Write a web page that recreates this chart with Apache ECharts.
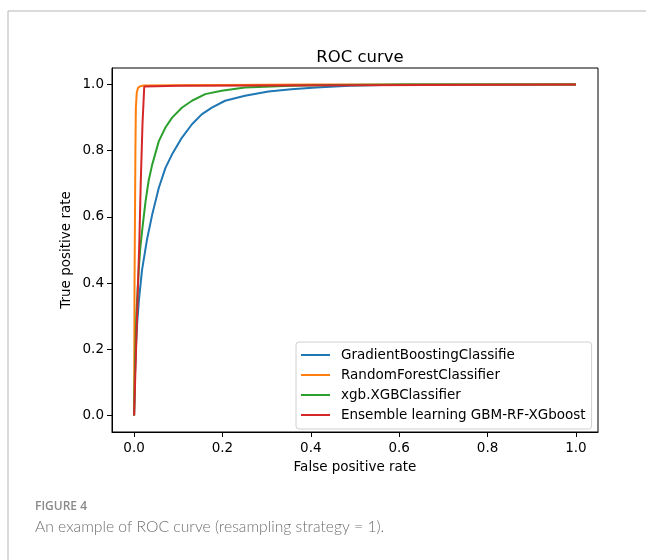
<!DOCTYPE html>
<html>
<head>
<meta charset="utf-8">
<style>
  html, body { margin: 0; padding: 0; background: #fff; }
  #main { width: 646px; height: 560px; }
</style>
</head>
<body>
<div id="main"></div>
<script src="https://cdn.jsdelivr.net/npm/echarts@6/dist/echarts.min.js"></script>
<script>
// ROC curves (false positive rate / true positive rate)
var seriesNames = ['GradientBoostingClassifie', 'RandomForestClassifier', 'xgb.XGBClassifier', 'Ensemble learning GBM-RF-XGboost'];
var seriesColors = ['#1f77b4', '#ff7f0e', '#2ca02c', '#d62728'];

var gbFpr = [0, 0.001, 0.002, 0.004, 0.007, 0.011, 0.018, 0.029, 0.041, 0.056, 0.071, 0.086, 0.108, 0.131, 0.153, 0.176, 0.206, 0.251, 0.304, 0.356, 0.412, 0.487, 0.562, 0.65, 0.8, 1.0];
var gbTpr = [0, 0.05, 0.12, 0.2, 0.28, 0.35, 0.44, 0.53, 0.607, 0.688, 0.748, 0.789, 0.839, 0.88, 0.91, 0.93, 0.951, 0.966, 0.979, 0.986, 0.991, 0.996, 0.999, 1.0, 1.0, 1.0];

var rfFpr = [0, 0.001, 0.003, 0.004, 0.006, 0.009, 0.014, 0.022, 0.1, 0.4, 1.0];
var rfTpr = [0, 0.4, 0.8, 0.93, 0.975, 0.99, 0.995, 0.997, 0.998, 1.0, 1.0];

var xgbFpr = [0, 0.001, 0.003, 0.005, 0.008, 0.011, 0.014, 0.02, 0.026, 0.033, 0.041, 0.056, 0.071, 0.086, 0.108, 0.131, 0.161, 0.198, 0.251, 0.356, 0.45, 0.6, 1.0];
var xgbTpr = [0, 0.08, 0.2, 0.3, 0.38, 0.45, 0.506, 0.58, 0.648, 0.71, 0.758, 0.829, 0.87, 0.9, 0.93, 0.951, 0.971, 0.981, 0.991, 0.996, 0.999, 1.0, 1.0];

var ensFpr = [0, 0.004, 0.008, 0.012, 0.015, 0.019, 0.023, 0.1, 0.5, 1.0];
var ensTpr = [0, 0.18, 0.36, 0.53, 0.7, 0.88, 0.994, 0.996, 0.998, 1.0];

var tickValues = [0, 0.2, 0.4, 0.6, 0.8, 1.0];

function pairs(xs, ys) {
  return xs.map(function (x, i) { return [x, ys[i]]; });
}

var curves = [pairs(gbFpr, gbTpr), pairs(rfFpr, rfTpr), pairs(xgbFpr, xgbTpr), pairs(ensFpr, ensTpr)];

var font = 'DejaVu Sans';

function axisCommon(name, gap) {
  return {
    type: 'value',
    min: -0.05,
    max: 1.05,
    name: name,
    nameLocation: 'middle',
    nameGap: gap,
    nameTextStyle: { fontFamily: font, fontSize: 13.5, color: '#000' },
    axisLine: { show: true, onZero: false, lineStyle: { color: '#000', width: 1 } },
    axisTick: { show: true, length: 5, customValues: tickValues, lineStyle: { color: '#000', width: 1 } },
    axisLabel: {
      customValues: tickValues,
      margin: 8,
      fontFamily: font,
      fontSize: 13.5,
      color: '#000',
      formatter: function (v) { return v.toFixed(1); }
    },
    splitLine: { show: false }
  };
}

var chart = echarts.init(document.getElementById('main'));

var xAxis = axisCommon('False positive rate', 28);
xAxis.axisLabel.margin = 9;
var yAxis = axisCommon('True positive rate', 39);
yAxis.nameMoveOverlap = false;

var option = {
  animation: false,
  backgroundColor: '#fff',
  title: {
    text: 'ROC curve',
    left: 355,
    textAlign: 'center',
    top: 44,
    textStyle: { fontFamily: font, fontSize: 16.5, fontWeight: 'normal', color: '#000' }
  },
  grid: {
    left: 112, right: 48, top: 68, bottom: 128,
    show: true, borderColor: '#000', borderWidth: 1, backgroundColor: 'transparent'
  },
  xAxis: xAxis,
  yAxis: yAxis,
  legend: {
    orient: 'vertical',
    left: 296,
    top: 342,
    padding: [5, 6, 6, 5],
    itemGap: 4,
    itemWidth: 29,
    itemHeight: 2,
    icon: 'rect',
    backgroundColor: '#fff',
    borderColor: '#d0d0d0',
    borderWidth: 1,
    borderRadius: 3,
    textStyle: { fontFamily: font, fontSize: 13.5, color: '#000', lineHeight: 16, padding: [0, 0, 0, 6] },
    data: seriesNames
  },
  series: curves.map(function (d, i) {
    return {
      name: seriesNames[i],
      type: 'line',
      data: d,
      symbol: 'none',
      showSymbol: false,
      color: seriesColors[i],
      lineStyle: { color: seriesColors[i], width: 2 },
      z: 2 + i
    };
  }),
  graphic: [
    { type: 'line', shape: { x1: 8, y1: 11, x2: 646, y2: 11 }, style: { stroke: '#b5b5b5', lineWidth: 1 } },
    { type: 'line', shape: { x1: 8, y1: 11, x2: 8, y2: 560 }, style: { stroke: '#b5b5b5', lineWidth: 1 } },
    {
      type: 'text', left: 35, top: 501,
      style: { text: 'FIGURE 4', fontFamily: 'Open Sans', fontSize: 12, fontWeight: 600, fill: '#8a8a8a' }
    },
    {
      type: 'text', left: 35, top: 519,
      style: { text: 'An example of ROC curve (resampling strategy = 1).', fontFamily: 'Lato', fontSize: 15.7, fontWeight: 300, fill: '#707070' }
    }
  ]
};

chart.setOption(option);
</script>
</body>
</html>
